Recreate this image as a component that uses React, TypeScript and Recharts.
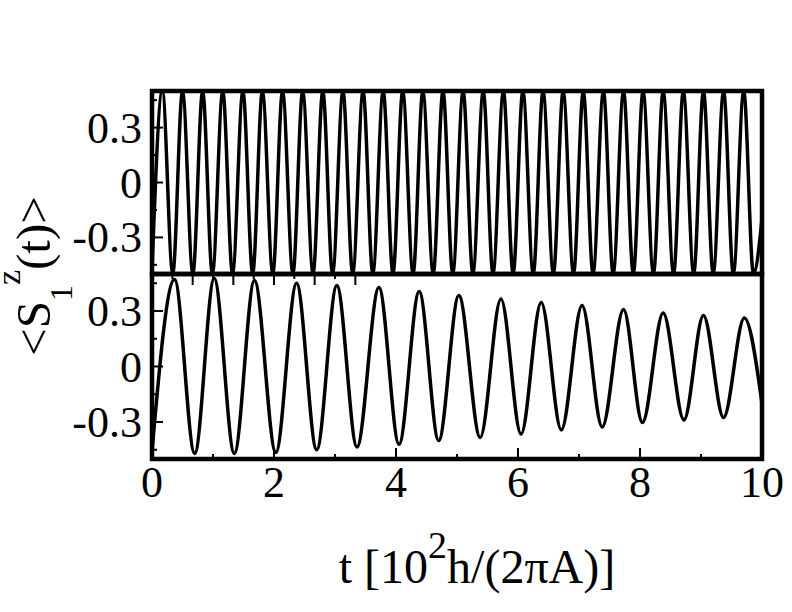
import React from "react";
import { Line, LineChart, ReferenceArea, XAxis, YAxis } from "recharts";

// upper panel: turning points of the fast oscillation
const topTime = [
  0, 0.17, 0.34, 0.5, 0.67, 0.83, 0.99, 1.16, 1.32, 1.49, 1.65, 1.81, 1.98, 2.14,
  2.31, 2.47, 2.64, 2.8, 2.96, 3.13, 3.29, 3.46, 3.62, 3.79, 3.95, 4.11, 4.28,
  4.44, 4.61, 4.77, 4.93, 5.1, 5.26, 5.43, 5.59, 5.76, 5.92, 6.08, 6.25, 6.41,
  6.58, 6.74, 6.91, 7.07, 7.23, 7.4, 7.56, 7.73, 7.89, 8.05, 8.22, 8.38, 8.55,
  8.71, 8.88, 9.04, 9.2, 9.37, 9.53, 9.7, 9.86, 10,
];
const topValue = [
  -0.48, 0.5, -0.5, 0.5, -0.5, 0.5, -0.5, 0.5, -0.5, 0.5, -0.5, 0.5, -0.5, 0.5,
  -0.5, 0.5, -0.5, 0.5, -0.5, 0.5, -0.5, 0.5, -0.5, 0.5, -0.5, 0.5, -0.5, 0.5,
  -0.5, 0.5, -0.5, 0.5, -0.5, 0.5, -0.5, 0.5, -0.5, 0.5, -0.5, 0.5, -0.5, 0.5,
  -0.5, 0.5, -0.5, 0.5, -0.5, 0.5, -0.5, 0.5, -0.5, 0.5, -0.5, 0.5, -0.5, 0.5,
  -0.5, 0.5, -0.5, 0.5, -0.5, -0.2,
];

// lower panel: turning points of the damped oscillation
const bottomTime = [
  0, 0.37, 0.7, 1.02, 1.35, 1.68, 2.03, 2.37, 2.7, 3.03, 3.36, 3.72, 4.05, 4.38,
  4.7, 5.03, 5.38, 5.72, 6.05, 6.38, 6.71, 7.05, 7.38, 7.73, 8.04, 8.38, 8.72,
  9.04, 9.37, 9.71, 10,
];
const bottomValue = [
  -0.46, 0.47, -0.47, 0.476, -0.47, 0.465, -0.465, 0.45, -0.45, 0.438, -0.435,
  0.427, -0.42, 0.405, -0.4, 0.384, -0.384, 0.365, -0.365, 0.346, -0.343, 0.33,
  -0.327, 0.308, -0.303, 0.289, -0.289, 0.276, -0.276, 0.262, -0.2,
];

const xTicks = [0, 1, 2, 3, 4, 5, 6, 7, 8, 9, 10];
const xMajor = [0, 2, 4, 6, 8, 10];
const yTicks = [-0.45, -0.3, -0.15, 0, 0.15, 0.3, 0.45];
const yMajor = [-0.3, 0, 0.3];

const serif = '"Liberation Serif", "Times New Roman", serif';

const topData = topTime.map((t, i) => ({ t, v: topValue[i] }));
const bottomData = bottomTime.map((t, i) => ({ t, v: bottomValue[i] }));

const LeftTick = (props: any) => {
  const { x, y, payload } = props;
  const major = yMajor.includes(payload.value);
  return (
    <g>
      <line x1={x} x2={x + (major ? 11 : 5)} y1={y} y2={y} stroke="#000" strokeWidth={2} />
      {major && (
        <text x={x - 10} y={y + 15} textAnchor="end" fontSize={44} fontFamily={serif} fill="#000">
          {payload.value}
        </text>
      )}
    </g>
  );
};

const RightTick = (props: any) => {
  const { x, y, payload } = props;
  const major = yMajor.includes(payload.value);
  return <line x1={x} x2={x - (major ? 11 : 5)} y1={y} y2={y} stroke="#000" strokeWidth={2} />;
};

const BottomTick = (props: any) => {
  const { x, y, payload } = props;
  const major = xMajor.includes(payload.value);
  return (
    <g>
      <line x1={x} x2={x} y1={y} y2={y - (major ? 11 : 5)} stroke="#000" strokeWidth={2} />
      {major && (
        <text x={x} y={y + 38} textAnchor="middle" fontSize={44} fontFamily={serif} fill="#000">
          {payload.value}
        </text>
      )}
    </g>
  );
};

const TopTick = (props: any) => {
  const { x, y, payload } = props;
  const major = xMajor.includes(payload.value);
  return <line x1={x} x2={x} y1={y} y2={y + (major ? 11 : 5)} stroke="#000" strokeWidth={2} />;
};

const Panel = ({ data, top, bottom, ticksX }: any) => (
  <div style={{ position: "absolute", left: 0, top: 0 }}>
    <LineChart width={792} height={612} data={data} margin={{ top, right: 0, bottom, left: 0 }}>
      <XAxis
        dataKey="t"
        type="number"
        domain={[0, 10]}
        ticks={xTicks}
        interval={0}
        height={1}
        tickSize={0}
        tickMargin={0}
        tickLine={false}
        axisLine={false}
        tick={ticksX ? BottomTick : false}
      />
      <XAxis
        xAxisId="top"
        orientation="top"
        type="number"
        domain={[0, 10]}
        ticks={xTicks}
        interval={0}
        height={1}
        tickSize={0}
        tickMargin={0}
        tickLine={false}
        axisLine={false}
        tick={ticksX ? TopTick : false}
      />
      <YAxis
        type="number"
        domain={[-0.5, 0.5]}
        ticks={yTicks}
        interval={0}
        width={152}
        tickSize={0}
        tickMargin={0}
        tickLine={false}
        axisLine={false}
        tick={LeftTick}
      />
      <YAxis
        yAxisId="right"
        orientation="right"
        type="number"
        domain={[-0.5, 0.5]}
        ticks={yTicks}
        interval={0}
        width={30}
        tickSize={0}
        tickMargin={0}
        tickLine={false}
        axisLine={false}
        tick={RightTick}
      />
      <Line
        dataKey="v"
        type="monotone"
        stroke="#000"
        strokeWidth={3.5}
        dot={false}
        isAnimationActive={false}
      />
      <ReferenceArea
        x1={0}
        x2={10}
        y1={-0.5}
        y2={0.5}
        fill="none"
        fillOpacity={0}
        stroke="#000"
        strokeWidth={4.5}
        strokeOpacity={1}
        ifOverflow="visible"
      />
    </LineChart>
  </div>
);

export default function App() {
  return (
    <div style={{ position: "absolute", left: 0, top: 0, width: 792, height: 612, background: "#fff" }}>
      <Panel data={topData} top={90} bottom={337} ticksX={false} />
      <Panel data={bottomData} top={273} bottom={152} ticksX={true} />
      <svg width={792} height={612} style={{ position: "absolute", left: 0, top: 0, pointerEvents: "none" }}>
        <text
          transform="translate(50,276) rotate(-90)"
          textAnchor="middle"
          fontSize={49}
          fontFamily={serif}
          fill="#000"
        >
          {"<S"}
          <tspan dy={22} fontSize={32}>1</tspan>
          <tspan dy={-52} fontSize={34}>z</tspan>
          <tspan dy={30}>{"(t)>"}</tspan>
        </text>
        <text x={477} y={583} textAnchor="middle" fontSize={48} fontFamily={serif} fill="#000">
          {"t [10"}
          <tspan dy={-25} fontSize={38}>2</tspan>
          <tspan dy={25}>{"h/(2πA)]"}</tspan>
        </text>
      </svg>
    </div>
  );
}
